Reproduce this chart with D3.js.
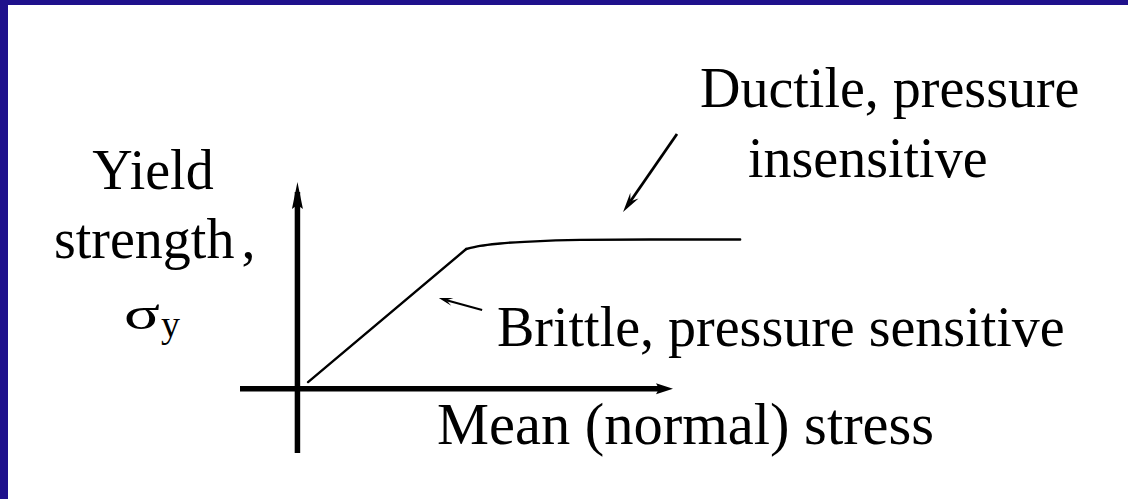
<!DOCTYPE html>
<html>
<head>
<meta charset="utf-8">
<script src="https://cdn.jsdelivr.net/npm/d3@7"></script>
<style>
  html, body { margin: 0; padding: 0; background: #fff; }
  svg { display: block; }
  text { font-family: "Liberation Serif", "Times New Roman", serif; fill: #000; }
</style>
</head>
<body>
<script>
// ---- data (in chart units) ----
const xDomain = [-13, 85];           // mean (normal) stress axis extent
const yDomain = [-31, 100];          // yield strength axis extent
// brittle (linear) branch, then ductile plateau
const brittleX = [2.4, 38.2];
const brittleY = [3.3, 67.6];
const ductileX = [38.2, 41.3, 45.9, 52.6, 64, 79.8, 100.2];
const ductileY = [67.6, 69.1, 70.3, 71.2, 72, 72.2, 72.2];
const brittleArrow = [[41.8, 38.1], [32.0, 43.9]];   // tail -> tip
const ductileArrow = [[85.9, 123.2], [73.7, 85.5]];  // tail -> tip
const labels = {
  ductile: ["Ductile, pressure", "insensitive"],
  brittle: "Brittle, pressure sensitive",
  xTitle: "Mean (normal) stress",
  yTitle: ["Yield", "strength", "σ", "y"]
};

const W = 1128, H = 499;
const svg = d3.select("body").append("svg").attr("width", W).attr("height", H);

// frame (left and top bands)
svg.append("rect").attr("x", 0).attr("y", 0).attr("width", W).attr("height", 5).attr("fill", "#1f118c");
svg.append("rect").attr("x", 0).attr("y", 0).attr("width", 8).attr("height", H).attr("fill", "#1f118c");

const x = d3.scaleLinear().domain(xDomain).range([240, 673]);
const y = d3.scaleLinear().domain(yDomain).range([453, 182]);

// axes
const x0 = x(0), y0 = y(0);
svg.append("line").attr("x1", x(xDomain[0])).attr("x2", x(xDomain[1]) - 10)
  .attr("y1", y0).attr("y2", y0).attr("stroke", "#000").attr("stroke-width", 5.5);
svg.append("line").attr("x1", x0).attr("x2", x0)
  .attr("y1", y(yDomain[0])).attr("y2", y(yDomain[1]) + 10).attr("stroke", "#000").attr("stroke-width", 5.5);

function head(tipX, tipY, angle, len, half, notch) {
  const ca = Math.cos(angle), sa = Math.sin(angle);
  const pt = (a, b) => [tipX - a * ca + b * sa, tipY - a * sa - b * ca];
  const pts = [pt(0, 0), pt(len, half), pt(len - notch, 0), pt(len, -half)];
  svg.append("path").attr("d", "M" + pts.map(p => p.join(",")).join("L") + "Z").attr("fill", "#000");
}
head(x(xDomain[1]), y0, 0, 17, 5.5, 3);
head(x0, y(yDomain[1]), -Math.PI / 2, 27, 5.5, 4);

// curve
const lineGen = d3.line().x(d => x(d[0])).y(d => y(d[1]));
svg.append("path")
  .attr("d", lineGen.curve(d3.curveLinear)(brittleX.map((d, i) => [d, brittleY[i]])))
  .attr("fill", "none").attr("stroke", "#000").attr("stroke-width", 2.4).attr("stroke-linecap", "round");
svg.append("path")
  .attr("d", lineGen.curve(d3.curveMonotoneX)(ductileX.map((d, i) => [d, ductileY[i]])))
  .attr("fill", "none").attr("stroke", "#000").attr("stroke-width", 2.4).attr("stroke-linecap", "round");

// annotation arrows
function arrow(a, len, half, notch, sw) {
  const [t, h] = a;
  const x1 = x(t[0]), y1 = y(t[1]), x2 = x(h[0]), y2 = y(h[1]);
  const ang = Math.atan2(y2 - y1, x2 - x1);
  svg.append("line").attr("x1", x1).attr("y1", y1)
    .attr("x2", x2 - Math.cos(ang) * (len - notch)).attr("y2", y2 - Math.sin(ang) * (len - notch))
    .attr("stroke", "#000").attr("stroke-width", sw);
  head(x2, y2, ang, len, half, notch);
}
arrow(brittleArrow, 14, 4, 6, 2);
arrow(ductileArrow, 20, 5, 7, 2.8);

// texts
const fs = 56;
svg.append("text").attr("x", 700).attr("y", 107).attr("font-size", fs).text(labels.ductile[0]);
svg.append("text").attr("x", 748).attr("y", 177).attr("font-size", fs).text(labels.ductile[1]);
svg.append("text").attr("x", 497).attr("y", 346).attr("font-size", fs).text(labels.brittle);
svg.append("text").attr("x", 437).attr("y", 444).attr("font-size", 58.5).text(labels.xTitle);

svg.append("text").attr("x", 153).attr("y", 189).attr("font-size", fs).attr("text-anchor", "middle").text(labels.yTitle[0]);
const st = svg.append("text").attr("x", 54).attr("y", 258).attr("font-size", fs);
st.append("tspan").text(labels.yTitle[1]);
st.append("tspan").attr("dx", 7).text(",");
const sig = svg.append("text").attr("transform", "translate(124,329) scale(1.45,1)")
  .attr("font-size", 46).text(labels.yTitle[2]);
const sb = sig.node().getBBox();
svg.append("text").attr("x", 124 + (sb.x + sb.width) * 1.45 + 1).attr("y", 337).attr("font-size", 38).text(labels.yTitle[3]);
</script>
</body>
</html>
